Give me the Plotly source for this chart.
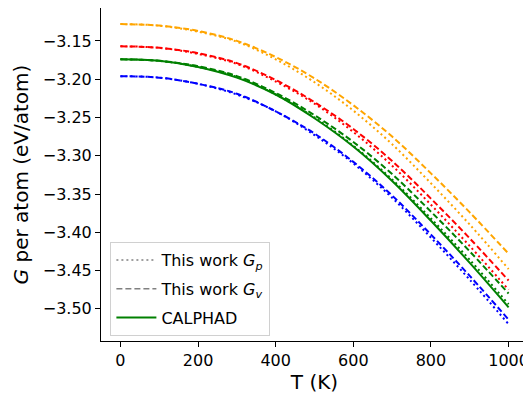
import plotly.graph_objects as go

T = [0, 100, 200, 300, 400, 500, 600, 700, 800, 900, 1000]

orange_v = [-3.128, -3.130, -3.137, -3.150, -3.171, -3.199, -3.234, -3.275, -3.323, -3.374, -3.428]
orange_p = [-3.128, -3.130, -3.138, -3.151, -3.174, -3.204, -3.241, -3.285, -3.336, -3.390, -3.448]
red_v = [-3.157, -3.159, -3.166, -3.179, -3.201, -3.230, -3.265, -3.307, -3.356, -3.408, -3.463]
red_p = [-3.157, -3.159, -3.167, -3.180, -3.203, -3.232, -3.269, -3.313, -3.364, -3.418, -3.475]
green_c = [-3.174, -3.176, -3.184, -3.198, -3.220, -3.251, -3.288, -3.333, -3.385, -3.440, -3.498]
green_v = [-3.174, -3.176, -3.183, -3.196, -3.218, -3.247, -3.282, -3.324, -3.373, -3.425, -3.480]
green_p = [-3.174, -3.176, -3.184, -3.197, -3.220, -3.250, -3.287, -3.331, -3.382, -3.436, -3.494]
blue_v = [-3.196, -3.198, -3.206, -3.219, -3.242, -3.271, -3.308, -3.352, -3.403, -3.457, -3.514]
blue_p = [-3.196, -3.198, -3.206, -3.220, -3.242, -3.273, -3.310, -3.355, -3.407, -3.462, -3.520]

x_ticks = [0, 200, 400, 600, 800, 1000]
y_ticks = [-3.15, -3.20, -3.25, -3.30, -3.35, -3.40, -3.45, -3.50]
y_ticktext = ["\u22123.15", "\u22123.20", "\u22123.25", "\u22123.30", "\u22123.35", "\u22123.40", "\u22123.45", "\u22123.50"]

DOT = "2px,3px"
DASH = "6px,3px"
LW = 2

series = [
    (orange_v, "orange", DASH),
    (orange_p, "orange", DOT),
    (red_v, "red", DASH),
    (red_p, "red", DOT),
    (green_v, "green", DASH),
    (green_p, "green", DOT),
    (green_c, "green", "solid"),
    (blue_v, "blue", DASH),
    (blue_p, "blue", DOT),
]

fig = go.Figure()
for ys, col, dash in series:
    fig.add_trace(go.Scatter(x=T, y=ys, mode="lines", line=dict(color=col, dash=dash, width=LW, shape="spline"),
                             showlegend=False, hoverinfo="skip"))

# legend entries
fig.add_trace(go.Scatter(x=[None], y=[None], mode="lines", name="This work <i>G<sub>p</sub></i>",
                         legendgroup="a", line=dict(color="grey", dash=DOT, width=1.5)))
fig.add_trace(go.Scatter(x=[None], y=[None], mode="lines", name="This work <i>G<sub>v</sub></i>",
                         legendgroup="b", line=dict(color="grey", dash=DASH, width=1.5)))
fig.add_trace(go.Scatter(x=[None], y=[None], mode="lines", name="CALPHAD",
                         legendgroup="c", line=dict(color="green", width=2)))

axis_common = dict(showline=True, mirror=True, linecolor="black", linewidth=1, ticks="outside",
                   ticklen=5, tickcolor="black", tickwidth=1, showgrid=False, zeroline=False,
                   tickfont=dict(family="DejaVu Sans", size=16, color="black"))

# page body has an 8px margin: figure is drawn 8px right/down of the window corner
fig.update_layout(
    width=523, height=386,
    margin=dict(l=93, r=3, t=0, b=53),
    paper_bgcolor="white", plot_bgcolor="white",
    font=dict(family="DejaVu Sans", color="black"),
    xaxis=dict(range=[-50, 1050], tickvals=x_ticks,
               title=dict(text="T (K)", font=dict(size=20), standoff=0), **axis_common),
    yaxis=dict(range=[-3.542, -3.107], tickvals=y_ticks, ticktext=y_ticktext,
               title=dict(text="<i>G</i> per atom (eV/atom)", font=dict(size=20), standoff=8), **axis_common),
    legend=dict(x=0.022, y=0.297, xanchor="left", yanchor="top", bgcolor="rgba(255,255,255,0.8)",
                bordercolor="#d0d0d0", borderwidth=1, font=dict(size=16, family="DejaVu Sans"),
                tracegroupgap=5, itemwidth=40),
)

fig.write_html("out.html")
